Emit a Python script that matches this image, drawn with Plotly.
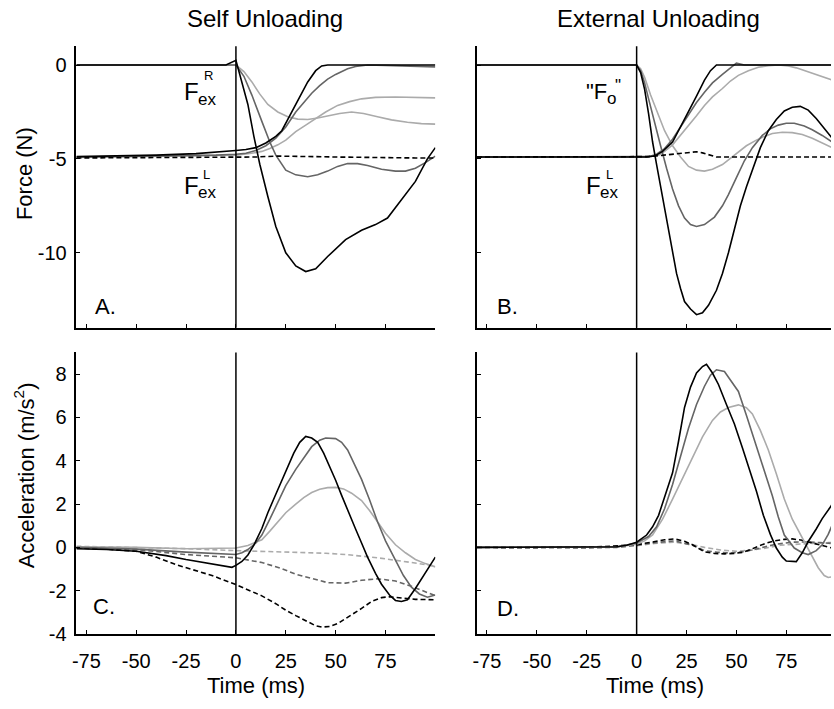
import plotly.graph_objects as go

W, H = 834, 709

# ---------------- Force, self unloading (panel A) ----------------
a_blk_top_t = [-80, -5, 0, 3, 6, 9, 12, 16, 20, 25, 30, 35, 40, 46, 50, 55, 63, 70, 76, 83, 90, 96, 100]
a_blk_top_v = [0, 0, 0.25, -0.9, -2.1, -3.8, -5.3, -7.0, -8.6, -10.0, -10.7, -11.0, -10.85, -10.2, -9.8, -9.3,
               -8.8, -8.5, -8.15, -7.2, -6.2, -5.0, -4.4]
a_blk_low_t = [-80, -60, -40, -20, -10, 0, 5, 10, 15, 20, 23, 26, 30, 33, 36, 40, 43, 46, 100]
a_blk_low_v = [-4.88, -4.85, -4.8, -4.72, -4.65, -4.55, -4.5, -4.4, -4.15, -3.8, -3.5, -2.9, -2.1, -1.5, -0.9,
               -0.3, -0.05, 0, 0]
a_dg_top_t = [-80, 0, 4, 8, 13, 17, 20, 25, 30, 36, 41, 46, 51, 56, 61, 66, 73, 80, 85, 90, 95, 100]
a_dg_top_v = [0, 0, -0.6, -1.6, -3.0, -4.1, -4.8, -5.6, -5.85, -5.95, -5.85, -5.65, -5.4, -5.25, -5.25, -5.35,
              -5.55, -5.65, -5.65, -5.5, -5.2, -4.85]
a_dg_low_t = [-80, -40, -10, 0, 5, 10, 15, 20, 25, 30, 35, 38, 42, 46, 50, 56, 60, 66, 75, 85, 100]
a_dg_low_v = [-4.9, -4.85, -4.8, -4.75, -4.7, -4.55, -4.3, -3.9, -3.3, -2.5, -1.9, -1.5, -1.1, -0.75, -0.5,
              -0.2, -0.08, 0, -0.02, -0.05, -0.1]
a_lg_top_t = [-80, 0, 4, 8, 12, 16, 21, 26, 31, 36, 41, 46, 52, 58, 64, 71, 78, 86, 93, 100]
a_lg_top_v = [0, 0, -0.35, -0.9, -1.55, -2.1, -2.5, -2.75, -2.88, -2.9, -2.82, -2.7, -2.58, -2.5, -2.58, -2.75,
              -2.92, -3.05, -3.12, -3.15]
a_lg_low_t = [-80, -40, -10, 0, 8, 13, 17, 21, 25, 30, 35, 40, 45, 51, 57, 63, 70, 80, 90, 100]
a_lg_low_v = [-4.92, -4.88, -4.83, -4.8, -4.7, -4.6, -4.45, -4.25, -4.0, -3.55, -3.2, -2.85, -2.5, -2.15, -1.95,
              -1.8, -1.72, -1.7, -1.72, -1.75]
a_dash_t = [-80, 0, 10, 20, 30, 40, 50, 60, 70, 80, 90, 100]
a_dash_v = [-4.95, -4.92, -4.9, -4.85, -4.85, -4.88, -4.9, -4.92, -4.92, -4.92, -4.95, -4.95]

# ---------------- Force, external unloading (panel B) ----------------
b_blk_top_t = [-80, 0, 2, 4, 6, 8, 10, 12, 14, 16, 18, 20, 22, 24, 27, 30, 33, 36, 40, 43, 46, 49, 52, 55, 58,
               62, 66, 70, 74, 78, 82, 86, 90, 94, 98]
b_blk_top_v = [0, 0, -0.4, -1.3, -2.6, -4.1, -5.3, -6.5, -7.6, -8.8, -9.9, -11.1, -11.9, -12.6, -13.0, -13.3,
               -13.2, -12.8, -12.0, -11.1, -10.0, -8.7, -7.5, -6.5, -5.6, -4.4, -3.5, -2.9, -2.45, -2.25, -2.2,
               -2.4, -2.85, -3.4, -3.9]
b_blk_low_t = [-80, 0, 5, 9, 13, 18, 21, 24, 27, 30, 34, 37, 40, 100]
b_blk_low_v = [-4.9, -4.9, -4.9, -4.85, -4.6, -4.1, -3.5, -2.85, -2.3, -1.65, -0.8, -0.3, 0, 0]
b_dg_top_t = [-80, 0, 2, 4, 6, 9, 12, 15, 18, 21, 24, 27, 30, 34, 39, 43, 46, 50, 54, 58, 63, 67, 71, 75, 79,
              84, 88, 93, 98]
b_dg_top_v = [0, 0, -0.3, -0.95, -1.8, -3.1, -4.3, -5.5, -6.6, -7.5, -8.15, -8.5, -8.6, -8.5, -8.1, -7.5, -6.9,
              -6.0, -5.1, -4.4, -3.75, -3.4, -3.2, -3.1, -3.1, -3.25, -3.45, -3.75, -4.1]
b_dg_low_t = [-80, 0, 6, 10, 14, 18, 22, 26, 30, 34, 38, 43, 47, 50, 54, 100]
b_dg_low_v = [-4.9, -4.9, -4.88, -4.75, -4.45, -3.95, -3.3, -2.6, -2.0, -1.45, -0.95, -0.5, -0.15, 0.1, 0, 0]
b_lg_top_t = [-80, 0, 2, 4, 7, 11, 14, 18, 22, 26, 30, 34, 38, 43, 47, 51, 55, 60, 64, 68, 73, 78, 83, 88, 93, 98]
b_lg_top_v = [0, 0, -0.2, -0.65, -1.6, -2.65, -3.5, -4.3, -4.9, -5.4, -5.6, -5.65, -5.55, -5.3, -4.95, -4.6,
              -4.3, -4.0, -3.8, -3.65, -3.58, -3.6, -3.7, -3.9, -4.15, -4.4]
b_lg_low_t = [-80, 0, 6, 11, 14, 18, 22, 26, 30, 34, 38, 43, 47, 51, 56, 61, 66, 71, 76, 80, 84, 88, 93, 98]
b_lg_low_v = [-4.9, -4.9, -4.88, -4.8, -4.6, -4.25, -3.75, -3.2, -2.7, -2.15, -1.7, -1.25, -0.85, -0.55, -0.3,
              -0.12, -0.03, 0, -0.05, -0.15, -0.3, -0.45, -0.62, -0.8]
b_dash_t = [-80, 0, 5, 9, 13, 18, 24, 30, 33, 37, 40, 100]
b_dash_v = [-4.9, -4.9, -4.88, -4.85, -4.8, -4.76, -4.7, -4.62, -4.68, -4.82, -4.9, -4.9]

# ---------------- Acceleration, self unloading (panel C) ----------------
c_blk_t = [-80, -65, -50, -35, -25, -15, -5, -2, 0, 3, 6, 9, 13, 16, 20, 23, 26, 29, 32, 35, 38, 41, 44, 47, 50,
           53, 56, 60, 63, 66, 70, 73, 77, 80, 83, 86, 90, 95, 100]
c_blk_v = [-0.06, -0.1, -0.18, -0.38, -0.56, -0.72, -0.9, -0.92, -0.83, -0.65, -0.35, 0.1, 0.87, 1.6, 2.45, 3.1,
           3.7, 4.35, 4.85, 5.12, 5.05, 4.85, 4.35, 3.75, 3.1, 2.4, 1.7, 0.85, 0.2, -0.45, -1.2, -1.7, -2.2,
           -2.45, -2.5, -2.42, -1.9, -1.15, -0.45]
c_dg_t = [-80, -50, -25, -10, 0, 3, 6, 10, 13, 17, 21, 25, 30, 34, 38, 42, 45, 50, 53, 56, 60, 63, 67, 71, 75, 80,
          84, 88, 92, 96, 100]
c_dg_v = [0, -0.08, -0.22, -0.3, -0.33, -0.25, -0.1, 0.2, 0.57, 1.3, 2.08, 2.85, 3.6, 4.15, 4.65, 4.95, 5.05,
          5.02, 4.85, 4.5, 3.7, 3.14, 2.2, 1.18, 0.3, -0.63, -1.3, -1.84, -2.15, -2.3, -2.2]
c_lg_t = [-80, -50, -25, 0, 6, 13, 17, 21, 25, 30, 34, 38, 42, 46, 50, 54, 58, 63, 67, 71, 75, 80, 85, 90, 95, 100]
c_lg_v = [0.03, 0.0, -0.06, -0.03, 0.09, 0.35, 0.75, 1.18, 1.6, 2.0, 2.3, 2.53, 2.68, 2.76, 2.77, 2.7, 2.5, 2.16,
          1.7, 1.18, 0.65, 0.12, -0.25, -0.56, -0.75, -0.9]
c_lg_dash_t = [-80, -50, -25, 0, 13, 30, 45, 55, 71, 88, 100]
c_lg_dash_v = [0.05, 0.0, -0.06, -0.15, -0.18, -0.21, -0.27, -0.33, -0.48, -0.7, -0.86]
c_dg_dash_t = [-80, -50, -25, 0, 13, 22, 30, 38, 46, 55, 63, 71, 80, 88, 95, 100]
c_dg_dash_v = [-0.03, -0.1, -0.33, -0.48, -0.7, -0.95, -1.24, -1.45, -1.63, -1.65, -1.52, -1.45, -1.55, -1.8,
               -2.05, -2.23]
c_blk_dash_t = [-80, -65, -50, -40, -30, -25, -12, 0, 6, 13, 20, 25, 30, 35, 40, 43, 47, 51, 55, 59, 63, 68, 73,
                77, 80, 85, 90, 100]
c_blk_dash_v = [-0.03, -0.08, -0.18, -0.45, -0.8, -0.93, -1.3, -1.72, -1.95, -2.24, -2.6, -2.9, -3.15, -3.4,
                -3.62, -3.68, -3.65, -3.52, -3.3, -3.05, -2.82, -2.5, -2.32, -2.28, -2.3, -2.35, -2.4, -2.42]

# ---------------- Acceleration, external unloading (panel D) ----------------
d_blk_t = [-80, -40, -10, -5, 0, 5, 8, 11, 14, 18, 21, 24, 27, 30, 33, 35, 38, 41, 45, 49, 53, 56, 60, 63.5, 67,
           70, 73, 75, 80, 83, 86, 90, 93, 97, 98]
d_blk_v = [0, 0, 0.03, 0.1, 0.24, 0.57, 0.95, 1.48, 2.3, 3.44, 4.9, 6.46, 7.4, 8.05, 8.35, 8.45, 8.05, 7.52, 6.6,
           5.7, 4.6, 3.74, 2.6, 1.48, 0.6, -0.03, -0.45, -0.63, -0.66, -0.25, 0.27, 0.85, 1.33, 1.85, 2.0]
d_dg_t = [-80, -10, 0, 6, 10, 14, 18, 23, 26, 30, 34, 37, 40, 44, 47, 51, 55, 59, 63, 68, 71, 74, 79, 83, 86, 90,
          93, 96, 98]
d_dg_v = [0, 0.02, 0.2, 0.5, 0.95, 1.78, 2.9, 4.5, 5.5, 6.6, 7.44, 7.95, 8.2, 8.12, 7.7, 7.2, 6.1, 4.95, 3.8,
          2.38, 1.4, 0.57, -0.03, -0.25, -0.33, -0.15, 0.12, 0.6, 1.03]
d_lg_t = [-80, -10, 0, 4, 8, 13, 18, 23, 28, 33, 38, 42, 46, 51, 55, 58, 62, 66, 70, 74, 78, 83, 87, 91, 94, 96, 98]
d_lg_v = [0, 0.02, 0.15, 0.3, 0.57, 1.3, 2.23, 3.2, 4.2, 5.1, 5.86, 6.25, 6.46, 6.58, 6.45, 6.16, 5.4, 4.5, 3.4,
          2.23, 1.3, 0.42, -0.3, -0.94, -1.3, -1.39, -1.36]
d_blk_dash_t = [-80, -60, -40, -20, 0, 5, 9, 14, 19, 24, 28, 31, 34, 39, 44, 49, 53, 57, 61, 65, 69, 74, 78, 83,
                88, 93, 98]
d_blk_dash_v = [0.0, -0.02, 0.0, 0.02, 0.12, 0.2, 0.27, 0.35, 0.39, 0.28, 0.12, -0.05, -0.21, -0.28, -0.3, -0.28,
                -0.23, -0.1, 0.05, 0.2, 0.3, 0.37, 0.39, 0.33, 0.2, 0.08, -0.03]
d_dg_dash_t = [-80, -50, -30, -10, 0, 9, 19, 28, 34, 40, 47, 54, 61, 70, 78, 85, 92, 98]
d_dg_dash_v = [0.02, 0.03, -0.03, 0.0, 0.1, 0.22, 0.3, 0.1, -0.15, -0.22, -0.26, -0.2, -0.05, 0.15, 0.24, 0.25,
               0.22, 0.18]
d_lg_dash_t = [-80, -50, -30, -10, 0, 9, 19, 28, 34, 42, 50, 58, 65, 72, 80, 88, 95, 98]
d_lg_dash_v = [0.03, 0.0, -0.02, 0.02, 0.08, 0.18, 0.24, 0.12, 0.0, -0.12, -0.18, -0.12, -0.03, 0.1, 0.15, 0.2,
               0.22, 0.22]

# tick labels
time_ticks = [-75, -50, -25, 0, 25, 50, 75, 100]
time_labels = ["-75", "-50", "-25", "0", "25", "50", "75", " "]
force_ticks = [0, -5, -10]
force_labels = ["0", "-5", "-10"]
acc_ticks = [-4, -2, 0, 2, 4, 6, 8]
acc_labels = ["-4", "-2", "0", "2", "4", "6", "8"]

BLACK = "#000000"
DGRAY = "#656565"
LGRAY = "#ababab"
FONT = "Liberation Sans, Arial, Helvetica, sans-serif"
DASH = "5px,3px"

panels = {
    1: [  # A
        (a_lg_top_t, a_lg_top_v, LGRAY, "solid"),
        (a_lg_low_t, a_lg_low_v, LGRAY, "solid"),
        (a_dg_top_t, a_dg_top_v, DGRAY, "solid"),
        (a_dg_low_t, a_dg_low_v, DGRAY, "solid"),
        (a_dash_t, a_dash_v, BLACK, DASH),
        (a_blk_low_t, a_blk_low_v, BLACK, "solid"),
        (a_blk_top_t, a_blk_top_v, BLACK, "solid"),
    ],
    2: [  # B
        (b_lg_top_t, b_lg_top_v, LGRAY, "solid"),
        (b_lg_low_t, b_lg_low_v, LGRAY, "solid"),
        (b_dg_top_t, b_dg_top_v, DGRAY, "solid"),
        (b_dg_low_t, b_dg_low_v, DGRAY, "solid"),
        (b_dash_t, b_dash_v, BLACK, DASH),
        (b_blk_low_t, b_blk_low_v, BLACK, "solid"),
        (b_blk_top_t, b_blk_top_v, BLACK, "solid"),
    ],
    3: [  # C
        (c_lg_dash_t, c_lg_dash_v, LGRAY, DASH),
        (c_dg_dash_t, c_dg_dash_v, DGRAY, DASH),
        (c_blk_dash_t, c_blk_dash_v, BLACK, DASH),
        (c_lg_t, c_lg_v, LGRAY, "solid"),
        (c_dg_t, c_dg_v, DGRAY, "solid"),
        (c_blk_t, c_blk_v, BLACK, "solid"),
    ],
    4: [  # D
        (d_lg_dash_t, d_lg_dash_v, LGRAY, DASH),
        (d_dg_dash_t, d_dg_dash_v, DGRAY, DASH),
        (d_blk_dash_t, d_blk_dash_v, BLACK, DASH),
        (d_lg_t, d_lg_v, LGRAY, "solid"),
        (d_dg_t, d_dg_v, DGRAY, "solid"),
        (d_blk_t, d_blk_v, BLACK, "solid"),
    ],
}


def px(x):
    return x / W


def py(y):
    return 1 - y / H


fig = go.Figure()
for k, series in panels.items():
    suffix = "" if k == 1 else str(k)
    for t, v, color, dash in series:
        fig.add_trace(go.Scatter(x=t, y=v, mode="lines", xaxis="x" + suffix, yaxis="y" + suffix,
                                 line=dict(color=color, width=1.6, dash=dash), showlegend=False,
                                 hoverinfo="skip"))

left_dom = [px(73), px(435)]
right_dom = [px(477), 1.0]
top_dom = [py(333), py(47)]
bot_dom = [py(644), py(358)]

common = dict(showline=True, linecolor="black", linewidth=1.5, ticks="inside", ticklen=4, tickwidth=1.2,
              tickcolor="black", showgrid=False, zeroline=False, mirror=False,
              tickfont=dict(family=FONT, size=20, color="black"))


def xax(dom, anchor, rng, labels):
    return dict(common, domain=dom, anchor=anchor, range=rng, tickvals=time_ticks, ticktext=time_labels,
                showticklabels=labels, ticklabelstandoff=8)


def yax(dom, anchor, rng, ticks, texts, labels):
    return dict(common, domain=dom, anchor=anchor, range=rng, tickvals=ticks, ticktext=texts,
                showticklabels=labels, ticklabelstandoff=4)


fig.update_layout(
    width=W, height=H, margin=dict(l=0, r=0, t=0, b=0),
    paper_bgcolor="white", plot_bgcolor="white",
    font=dict(family=FONT, color="black"),
    xaxis=xax(left_dom, "y", [-80, 100], False),
    yaxis=yax(top_dom, "x", [-14, 1], force_ticks, force_labels, True),
    xaxis2=xax(right_dom, "y2", [-80, 97.4], False),
    yaxis2=yax(top_dom, "x2", [-14, 1], force_ticks, force_labels, False),
    xaxis3=xax(left_dom, "y3", [-80, 100], True),
    yaxis3=yax(bot_dom, "x3", [-4, 9], acc_ticks, acc_labels, True),
    xaxis4=xax(right_dom, "y4", [-80, 97.4], True),
    yaxis4=yax(bot_dom, "x4", [-4, 9], acc_ticks, acc_labels, False),
)

# movement onset marker at t = 0 in every panel
for k in range(1, 5):
    suffix = "" if k == 1 else str(k)
    fig.add_shape(type="line", xref="x" + suffix, yref="y" + suffix + " domain", x0=0, x1=0, y0=0, y1=1,
                  line=dict(color="black", width=1.5))


def text(x, y, s, size, xanchor="left", yanchor="middle", angle=0):
    fig.add_annotation(x=px(x), y=py(y), xref="paper", yref="paper", text=s, showarrow=False,
                       xanchor=xanchor, yanchor=yanchor, textangle=angle, borderpad=0,
                       font=dict(family=FONT, size=size, color="black"))


# column headings
text(263, 19, "Self Unloading", 24, xanchor="center")
text(660, 19, "External Unloading", 24, xanchor="center")

# axis titles
text(20, 176, "Force (N)", 22, xanchor="center", angle=-90)
text(20, 483, "Acceleration (m/s<sup>2</sup>)", 22, xanchor="center", angle=-90)
text(254, 696, "Time (ms)", 22, xanchor="center")
text(657, 696, "Time (ms)", 22, xanchor="center")

# panel letters
text(91, 311, "A.", 22)
text(496, 311, "B.", 22)
text(89, 616, "C.", 22)
text(496, 618, "D.", 22)

# force labels in panel A
text(181, 93, "F", 24)
text(195, 101, "ex", 17)
text(201, 77, "R", 13)
text(181, 188, "F", 24)
text(195, 196, "ex", 17)
text(200, 177, "L", 13)

# force labels in panel B
text(586, 93, "\"F", 22)
text(607, 100, "o", 17)
text(615, 87, "\"", 17)
text(586, 188, "F", 24)
text(600, 196, "ex", 17)
text(606, 177, "L", 13)

fig.write_html("out.html")
